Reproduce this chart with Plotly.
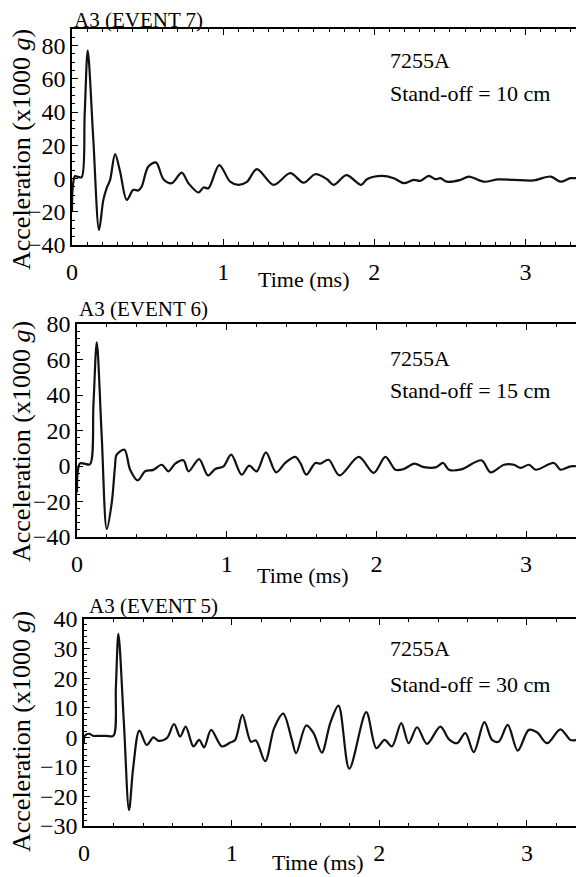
import plotly.graph_objects as go

# ---------------- data (time in ms, acceleration in x1000 g) ----------------
t_event7 = [0, 0.005, 0.02, 0.04, 0.064, 0.084, 0.104, 0.14, 0.179, 0.207,
            0.23, 0.252, 0.285, 0.318, 0.362, 0.406, 0.439, 0.461, 0.505, 0.556,
            0.605, 0.66, 0.726, 0.77, 0.837, 0.87, 0.903, 0.974, 1.046, 1.101,
            1.157, 1.223, 1.333, 1.444, 1.532, 1.609, 1.687, 1.731, 1.815, 1.912,
            1.951, 2.05, 2.128, 2.194, 2.26, 2.305, 2.36, 2.404, 2.437, 2.48,
            2.57, 2.625, 2.724, 2.82, 2.923, 3.055, 3.166, 3.232, 3.298, 3.38]
a_event7 = [-20, -5, 1.5, 1, 0.8, 39, 77, 25, -31, -13,
            -5.6, -0.8, 14.7, 4.2, -12.8, -6.8, -7.2, -4.8, 7.2, 9.6,
            -0.4, -2.8, 3.6, -2.8, -8.4, -5.4, -5.8, 8.1, -1.9, -3.8,
            -2.0, 5.7, -3.8, 3.2, -2.5, 2.6, -0.4, -3.8, 2.0, -3.8,
            -0.4, 1.6, 0.2, -2.8, -0.8, -1.4, 1.6, -0.4, 0.2, -1.9,
            -0.8, 1.2, -1.9, -0.5, -0.8, -1.1, 1.2, -1.9, 0.2, -0.2]

t_event6 = [0, 0.005, 0.02, 0.05, 0.087, 0.11, 0.132, 0.165, 0.199, 0.232,
            0.254, 0.265, 0.317, 0.355, 0.406, 0.455, 0.51, 0.566, 0.611, 0.656,
            0.711, 0.745, 0.816, 0.874, 0.923, 0.979, 1.03, 1.1, 1.15, 1.2,
            1.262, 1.33, 1.391, 1.458, 1.492, 1.532, 1.592, 1.625, 1.681, 1.753,
            1.882, 1.982, 2.06, 2.127, 2.183, 2.254, 2.317, 2.395, 2.446, 2.484,
            2.568, 2.702, 2.763, 2.852, 2.918, 2.963, 3.019, 3.064, 3.186, 3.231,
            3.298, 3.38]
a_event6 = [-15, -3, 1.5, 1.3, 1.0, 35, 69.6, 17, -35.5, -20.8,
            -0.2, 6.4, 9.2, -2.1, -8.1, -3.0, -2.2, 0.7, -3.0, 1.3,
            3.2, -3.0, 3.9, -5.3, -1.7, -0.2, 6.4, -4.9, 0.2, -3.0,
            7.7, -3.6, 1.7, 5.1, 1.7, -4.9, 1.7, 1.3, 3.5, -5.3,
            5.1, -3.9, 5.1, -2.1, -1.7, 1.3, -0.6, -0.8, 1.7, -2.1,
            -1.9, 3.2, -3.6, 0.7, 0.7, -1.1, 0.7, -2.1, 1.7, -2.1,
            -0.2, -0.5]

t_event5 = [0, 0.005, 0.036, 0.06, 0.1, 0.15, 0.199, 0.216, 0.233, 0.27,
            0.305, 0.334, 0.375, 0.425, 0.47, 0.504, 0.561, 0.61, 0.651, 0.689,
            0.741, 0.78, 0.814, 0.861, 0.934, 0.99, 1.024, 1.073, 1.13, 1.164,
            1.227, 1.288, 1.349, 1.408, 1.437, 1.505, 1.555, 1.611, 1.668, 1.724,
            1.797, 1.912, 1.98, 2.036, 2.086, 2.149, 2.199, 2.256, 2.323, 2.414,
            2.471, 2.527, 2.583, 2.64, 2.712, 2.764, 2.809, 2.87, 2.938, 3.013,
            3.07, 3.137, 3.227, 3.295, 3.34, 3.38]
a_event5 = [-2, 0.5, 1.2, 0.5, 0.5, 0.5, 0.5, 17, 35, 5,
            -24.6, -9.9, 2.3, -2.6, 0, -1.2, -0.3, 4.5, 0.2, 3.6,
            -3.1, -0.9, -3.4, 2.5, -3.1, -1.8, -0.9, 7.6, -1.5, -1.1,
            -8.1, 3.1, 8.0, -0.9, -5.4, 4.0, 1.4, -5.2, 4.8, 10.7,
            -10.6, 8.5, -3.7, -0.9, -3.1, 4.8, -2.0, 3.4, -2.2, 3.6,
            -0.6, -2.0, 1.4, -5.0, 5.1, -0.9, -1.5, 4.2, -4.5, 2.5,
            1.6, -2.0, 2.7, -0.9, -0.9, -0.6]

panel_titles = ["A3 (EVENT 7)", "A3 (EVENT 6)", "A3 (EVENT 5)"]
sensor_label = "7255A"
standoff_labels = ["Stand-off = 10 cm", "Stand-off = 15 cm", "Stand-off = 30 cm"]
x_title = "Time (ms)"
y_title = "Acceleration (x1000 <i>g</i>)"
y_ranges = [[-40, 90], [-40, 80], [-30, 40]]
y_dticks = [20, 20, 10]
y_minor = [5, 4, 2]
x_minor = [0.1, 0.2, 0.2]

# ---------------- layout geometry (window pixels) ----------------
# the page body has an 8 px margin, so the figure is drawn 8 px smaller
OFF = 8
W, H = 584 - OFF, 877 - OFF
FONT = "Liberation Serif, Times New Roman, Times, serif"
panels = [
    dict(left=72, right=583, top=29, bottom=245),
    dict(left=77, right=583, top=324, bottom=537),
    dict(left=84, right=583, top=619, bottom=826),
]
title_pos = [(72, 20), (77, 309), (87, 606)]
label_pos = [(388, 60, 93), (388, 358, 390), (388, 648, 684)]
xtitle_pos = [(303, 279), (302, 575), (317, 862)]
ytitle_pos = [(21, 150), (21, 442), (21, 732)]

def px(x):
    return (x - OFF) / W

def py(y):
    return 1 - (y - OFF) / H

series = [(t_event7, a_event7), (t_event6, a_event6), (t_event5, a_event5)]

fig = go.Figure()
annotations = []
layout_axes = {}
for i, (t, a) in enumerate(series):
    n = "" if i == 0 else str(i + 1)
    fig.add_trace(go.Scatter(
        x=t, y=a, mode="lines", xaxis="x" + n, yaxis="y" + n,
        line=dict(color="#111111", width=2.2, shape="spline", smoothing=0.9),
        showlegend=False, hoverinfo="skip", cliponaxis=True))
    p = panels[i]
    axis_common = dict(
        showline=True, linecolor="black", linewidth=1.5, mirror="allticks",
        ticks="inside", ticklen=6, tickwidth=1.2, tickcolor="black",
        showgrid=False, zeroline=False, automargin=False,
        tickfont=dict(family=FONT, size=24, color="black"),
    )
    layout_axes["xaxis" + n] = dict(
        axis_common, domain=[px(p["left"]), min(1, px(p["right"]))],
        anchor="y" + n, range=[0, 3.38], dtick=1, tick0=0,
        ticklabelstandoff=4,
        minor=dict(ticks="inside", ticklen=3, tickcolor="black",
                   tickwidth=1, dtick=x_minor[i], showgrid=False),
    )
    layout_axes["yaxis" + n] = dict(
        axis_common, domain=[py(p["bottom"]), py(p["top"])],
        anchor="x" + n, range=y_ranges[i], dtick=y_dticks[i], tick0=0,
        minor=dict(ticks="inside", ticklen=3, tickcolor="black",
                   tickwidth=1, dtick=y_minor[i], showgrid=False),
    )
    f22 = dict(family=FONT, size=22, color="black")
    annotations.append(dict(text=panel_titles[i], x=px(title_pos[i][0]), y=py(title_pos[i][1]),
                            xref="paper", yref="paper", xanchor="left", yanchor="middle",
                            showarrow=False, font=dict(family=FONT, size=21, color="black")))
    annotations.append(dict(text=sensor_label, x=px(label_pos[i][0]), y=py(label_pos[i][1]),
                            xref="paper", yref="paper", xanchor="left", yanchor="middle",
                            showarrow=False, font=f22))
    annotations.append(dict(text=standoff_labels[i], x=px(label_pos[i][0]), y=py(label_pos[i][2]),
                            xref="paper", yref="paper", xanchor="left", yanchor="middle",
                            showarrow=False, font=f22))
    annotations.append(dict(text=x_title, x=px(xtitle_pos[i][0]), y=py(xtitle_pos[i][1]),
                            xref="paper", yref="paper", xanchor="center", yanchor="middle",
                            showarrow=False, font=f22))
    annotations.append(dict(text=y_title, x=px(ytitle_pos[i][0]), y=py(ytitle_pos[i][1]),
                            xref="paper", yref="paper", xanchor="center", yanchor="middle",
                            textangle=-90, showarrow=False,
                            font=dict(family=FONT, size=26, color="black")))

fig.update_layout(
    width=W, height=H, autosize=False,
    margin=dict(l=0, r=0, t=0, b=0, pad=0),
    paper_bgcolor="white", plot_bgcolor="white",
    annotations=annotations,
    **layout_axes,
)

fig.write_html("out.html")
